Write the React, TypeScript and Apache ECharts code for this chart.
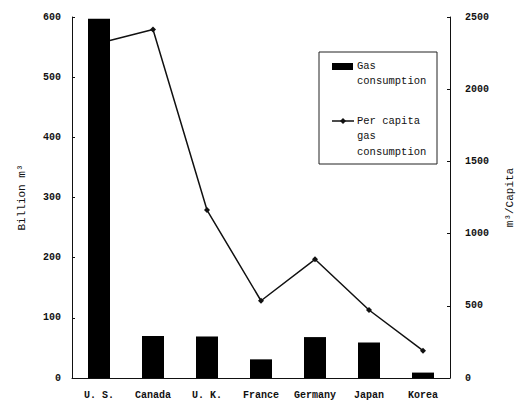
import React, { useEffect, useRef } from "react";
import * as echarts from "echarts";

const countries = ["U.S.", "Canada", "U.K.", "France", "Germany", "Japan", "Korea"];
const gasConsumption = [597, 70, 69, 31, 68, 59, 9];
const perCapita = [2318, 2414, 1163, 535, 822, 471, 189];
const leftTicks = { min: 0, max: 600, interval: 100 };
const rightTicks = { min: 0, max: 2500, interval: 500 };

const FONT = "'Liberation Mono', 'DejaVu Sans Mono', monospace";

export default function App() {
  const ref = useRef<HTMLDivElement>(null);
  useEffect(() => {
    if (!ref.current) return;
    const chart = echarts.init(ref.current, null, { renderer: "svg" });
    const axisLine = { show: true, lineStyle: { color: "#111", width: 1 } };
    chart.setOption({
      animation: false,
      backgroundColor: "#fff",
      grid: { left: 72, right: 77, top: 17, bottom: 23 },
      xAxis: {
        type: "category",
        data: countries,
        boundaryGap: true,
        axisLine,
        axisTick: { show: false },
        axisLabel: {
          interval: 0,
          color: "#111",
          fontFamily: FONT,
          fontSize: 10,
          fontWeight: "bold",
          margin: 12,
          formatter: (v: string) => v.replace(".", ". ").trim(),
        },
      },
      yAxis: [
        {
          type: "value",
          ...leftTicks,
          name: "Billion m³",
          nameLocation: "middle",
          nameGap: 45,
          nameTextStyle: { color: "#111", fontFamily: FONT, fontSize: 11 },
          axisLine,
          axisTick: { show: true, inside: true, length: 3, lineStyle: { color: "#111" } },
          splitLine: { show: false },
          axisLabel: { color: "#111", fontFamily: FONT, fontSize: 10, fontWeight: "bold", margin: 11 },
        },
        {
          type: "value",
          ...rightTicks,
          name: "m³/Capita",
          nameLocation: "middle",
          nameGap: 54,
          nameTextStyle: { color: "#111", fontFamily: FONT, fontSize: 11 },
          position: "right",
          axisLine,
          axisTick: { show: true, inside: true, length: 3, lineStyle: { color: "#111" } },
          splitLine: { show: false },
          axisLabel: {
            color: "#111",
            fontFamily: FONT,
            fontSize: 10,
            fontWeight: "bold",
            margin: 15,
            formatter: (v: number) => String(v),
          },
        },
      ],
      series: [
        {
          name: "Gas consumption",
          type: "bar",
          data: gasConsumption,
          yAxisIndex: 0,
          barWidth: 22,
          itemStyle: { color: "#000" },
          z: 3,
        },
        {
          name: "Per capita gas consumption",
          type: "line",
          data: perCapita,
          yAxisIndex: 1,
          symbol: "diamond",
          symbolSize: 6,
          lineStyle: { color: "#111", width: 1.5 },
          itemStyle: { color: "#111" },
          z: 2,
        },
      ],
      graphic: [
        {
          type: "rect",
          shape: { x: 319, y: 52, width: 118, height: 112 },
          style: { fill: "#fff", stroke: "#222", lineWidth: 1 },
          z: 10,
        },
        {
          type: "rect",
          shape: { x: 332, y: 63, width: 21, height: 7 },
          style: { fill: "#000" },
          z: 11,
        },
        {
          type: "text",
          x: 357,
          y: 66,
          style: { text: "Gas", fill: "#111", font: `10.5px ${FONT}`, verticalAlign: "middle" },
          z: 11,
        },
        {
          type: "text",
          x: 357,
          y: 81,
          style: { text: "consumption", fill: "#111", font: `10.5px ${FONT}`, verticalAlign: "middle" },
          z: 11,
        },
        {
          type: "line",
          shape: { x1: 332, y1: 121, x2: 354, y2: 121 },
          style: { stroke: "#111", lineWidth: 1.5 },
          z: 11,
        },
        {
          type: "polygon",
          shape: { points: [[343, 118], [346, 121], [343, 124], [340, 121]] },
          style: { fill: "#111" },
          z: 11,
        },
        {
          type: "text",
          x: 357,
          y: 121,
          style: { text: "Per capita", fill: "#111", font: `10.5px ${FONT}`, verticalAlign: "middle" },
          z: 11,
        },
        {
          type: "text",
          x: 357,
          y: 136,
          style: { text: "gas", fill: "#111", font: `10.5px ${FONT}`, verticalAlign: "middle" },
          z: 11,
        },
        {
          type: "text",
          x: 357,
          y: 152,
          style: { text: "consumption", fill: "#111", font: `10.5px ${FONT}`, verticalAlign: "middle" },
          z: 11,
        },
      ],
    });
    return () => chart.dispose();
  }, []);
  return <div ref={ref} style={{ width: 527, height: 401, position: "absolute", left: 0, top: 0 }} />;
}
